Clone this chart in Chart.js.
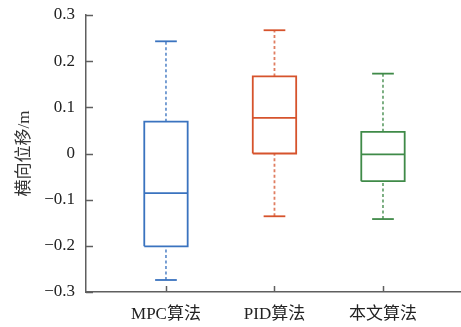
<!DOCTYPE html>
<html>
<head>
<meta charset="utf-8">
<script src="https://cdn.jsdelivr.net/npm/chart.js@4/dist/chart.umd.min.js"></script>
<style>
  html, body { margin: 0; padding: 0; background: #fff; }
  #wrap { width: 461px; height: 327px; }
</style>
</head>
<body>
<div id="wrap"><canvas id="c" width="461" height="327"></canvas></div>
<script>
// Lateral displacement statistics per controller (box plot)
const categories = ['MPC算法', 'PID算法', '本文算法'];
const whiskerLow = [-0.274, -0.136, -0.142];
const quartile1 = [-0.201, 0.000, -0.060];
const medians = [-0.086, 0.077, -0.002];
const quartile3 = [0.069, 0.167, 0.047];
const whiskerHigh = [0.243, 0.267, 0.173];
const yTickValues = [-0.3, -0.2, -0.1, 0, 0.1, 0.2, 0.3];

const colors = ['#3a73bf', '#d6532c', '#3f8a48'];
const whiskerColors = ['rgba(58,115,191,0.75)', 'rgba(214,83,44,0.75)', 'rgba(63,138,72,0.75)'];
const BOX_HALF = 0.2;
const CAP_HALF = 0.1;

const latin = "'Liberation Serif', 'Times New Roman', serif";
const cjk = "'Liberation Serif', 'Noto Sans CJK SC', serif";

function seg(points, color, dashed, width) {
  return {
    data: points,
    showLine: true,
    borderColor: color,
    borderWidth: width,
    borderDash: dashed ? [3, 2.5] : [],
    borderCapStyle: 'butt',
    pointRadius: 0,
    pointHoverRadius: 0,
    fill: false,
    tension: 0,
    clip: false
  };
}

const datasets = [];
categories.forEach((name, i) => {
  const x = i + 1;
  const c = colors[i];
  // whiskers (dashed) from box edges to the extremes
  datasets.push(seg([{x: x, y: quartile3[i]}, {x: x, y: whiskerHigh[i]}], whiskerColors[i], true, 1.8));
  datasets.push(seg([{x: x, y: whiskerLow[i]}, {x: x, y: quartile1[i]}], whiskerColors[i], true, 1.8));
  // caps
  datasets.push(seg([{x: x - CAP_HALF, y: whiskerHigh[i]}, {x: x + CAP_HALF, y: whiskerHigh[i]}], c, false, 1.8));
  datasets.push(seg([{x: x - CAP_HALF, y: whiskerLow[i]}, {x: x + CAP_HALF, y: whiskerLow[i]}], c, false, 1.8));
  // box
  datasets.push(seg([
    {x: x - BOX_HALF, y: quartile1[i]},
    {x: x + BOX_HALF, y: quartile1[i]},
    {x: x + BOX_HALF, y: quartile3[i]},
    {x: x - BOX_HALF, y: quartile3[i]},
    {x: x - BOX_HALF, y: quartile1[i]}
  ], c, false, 1.8));
  // median
  datasets.push(seg([{x: x - BOX_HALF, y: medians[i]}, {x: x + BOX_HALF, y: medians[i]}], c, false, 1.8));
});

// short tick marks pointing into the plot area
const innerTicks = {
  id: 'innerTicks',
  afterDraw(chart) {
    const {ctx, chartArea, scales} = chart;
    ctx.save();
    ctx.strokeStyle = '#5f5f5f';
    ctx.lineWidth = 1.5;
    ctx.beginPath();
    scales.y.ticks.forEach(t => {
      const py = Math.round(scales.y.getPixelForValue(t.value)) + 0.5;
      ctx.moveTo(chartArea.left, py);
      ctx.lineTo(chartArea.left + 7, py);
    });
    scales.x.ticks.forEach(t => {
      const px = Math.round(scales.x.getPixelForValue(t.value)) + 0.5;
      ctx.moveTo(px, chartArea.bottom);
      ctx.lineTo(px, chartArea.bottom - 6);
    });
    ctx.stroke();
    ctx.restore();
  }
};

new Chart(document.getElementById('c'), {
  type: 'scatter',
  data: { datasets },
  options: {
    responsive: false,
    animation: false,
    devicePixelRatio: 1,
    layout: { padding: { top: 15, right: 0, left: 0, bottom: 0 } },
    plugins: { legend: { display: false }, tooltip: { enabled: false } },
    scales: {
      x: {
        type: 'linear',
        min: 0.263,
        max: 3.719,
        afterBuildTicks: s => { s.ticks = categories.map((_, i) => ({ value: i + 1 })); },
        afterFit: s => { s.height = 35; s.paddingLeft = 0; s.paddingRight = 0; },
        grid: { display: true, drawOnChartArea: false, drawTicks: false },
        border: { display: true, color: '#5f5f5f', width: 1.5 },
        ticks: {
          autoSkip: false,
          maxRotation: 0,
          padding: 12,
          color: '#222',
          font: { family: cjk, size: 17 },
          callback: v => categories[Math.round(v) - 1]
        }
      },
      y: {
        type: 'linear',
        min: -0.3,
        max: 0.3,
        afterBuildTicks: s => { s.ticks = yTickValues.map(v => ({ value: v })); },
        afterFit: s => { s.width = 86; s.paddingTop = 0; s.paddingBottom = 0; },
        grid: { display: true, drawOnChartArea: false, drawTicks: false },
        border: { display: true, color: '#5f5f5f', width: 1.5 },
        title: {
          display: true,
          text: '横向位移/m',
          color: '#333',
          font: { family: cjk, size: 17 },
          padding: { top: 14, bottom: 0 }
        },
        ticks: {
          padding: 11,
          color: '#222',
          font: { family: latin, size: 17 },
          callback: v => (Math.abs(v) < 1e-9 ? '0' : (v < 0 ? '\u2212' + Math.abs(v).toFixed(1) : v.toFixed(1)))
        }
      }
    }
  },
  plugins: [innerTicks]
});
</script>
</body>
</html>
